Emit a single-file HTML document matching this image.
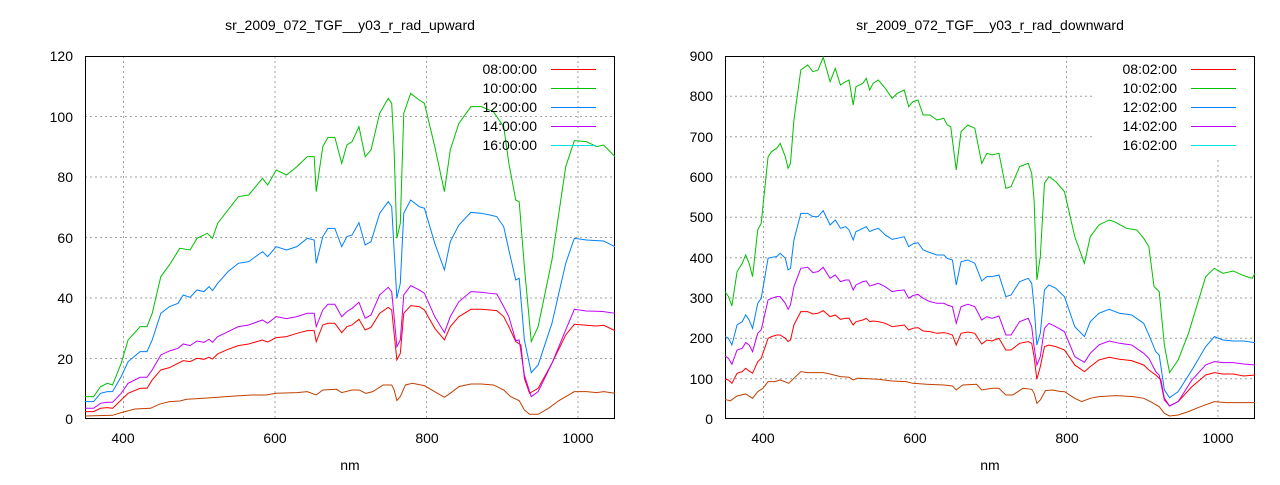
<!DOCTYPE html>
<html><head><meta charset="utf-8"><style>
body{margin:0;background:#fff}
svg{font-family:"Liberation Sans",sans-serif;font-size:14px}
</style></head><body>
<svg width="1280" height="480" xmlns="http://www.w3.org/2000/svg">
<rect width="1280" height="480" fill="#fff"/>
<!-- LEFT -->
<g stroke="#a0a0a0" stroke-dasharray="2,3" stroke-width="1">
<line x1="85" x2="615" y1="358.5" y2="358.5"/><line x1="85" x2="615" y1="298" y2="298"/><line x1="85" x2="615" y1="237.5" y2="237.5"/><line x1="85" x2="615" y1="177" y2="177"/><line x1="85" x2="615" y1="116.5" y2="116.5"/>
<line y1="56" y2="419" x1="123.5" x2="123.5"/><line y1="56" y2="419" x1="275" x2="275"/><line y1="56" y2="419" x1="426.5" x2="426.5"/><line y1="56" y2="419" x1="578" x2="578"/>
</g>
<g stroke="#000" stroke-width="1">
<rect x="85.5" y="56.5" width="529" height="362" fill="none"/>
</g>
<g text-anchor="end">
<text x="73" y="424">0</text><text x="73" y="364">20</text><text x="73" y="303">40</text><text x="73" y="243">60</text><text x="73" y="182">80</text><text x="73" y="122">100</text><text x="73" y="61">120</text>
</g>
<g text-anchor="middle">
<text x="123" y="443">400</text><text x="275" y="443">600</text><text x="427" y="443">800</text><text x="578" y="443">1000</text>
<text x="350" y="470">nm</text>
<text x="350" y="30">sr_2009_072_TGF__y03_r_rad_upward</text>
</g>
<g transform="translate(85,56) scale(0.3446,0.3333) translate(-15,-18)" fill="none" stroke-width="1" >
<polyline vector-effect="non-scaling-stroke" stroke="#c04000" points="15,1098 95,1096 120,1088 160,1077 205,1075 230,1063 260,1055 290,1053 310,1048 360,1045 400,1042 450,1038 500,1035 540,1035 570,1030 630,1028 660,1025 686,1035 705,1020 745,1018 760,1028 790,1020 810,1020 830,1030 850,1025 880,1005 905,1005 912,1020 920,1052 930,1040 945,1005 965,1000 990,1005 1000,1007 1030,1025 1058,1042 1075,1030 1100,1010 1135,1002 1165,1002 1200,1005 1230,1020 1250,1040 1275,1052 1290,1080 1305,1093 1330,1093 1360,1075 1390,1052 1435,1025 1470,1025 1500,1028 1520,1025 1553,1030"/>
<polyline vector-effect="non-scaling-stroke" stroke="#ff0000" points="15,1085 40,1085 60,1075 80,1073 95,1075 120,1050 140,1030 175,1015 195,1015 210,990 235,960 260,953 285,940 300,932 320,935 340,925 360,928 375,922 385,927 400,912 430,898 460,887 490,882 530,870 545,876 570,863 600,860 630,850 660,842 680,842 686,875 705,825 720,820 740,820 760,848 775,830 790,825 810,808 828,840 845,832 870,790 895,772 905,780 912,850 920,930 930,910 940,790 960,767 985,770 1000,780 1030,835 1058,870 1075,830 1100,800 1135,778 1165,778 1190,780 1210,782 1230,800 1245,830 1265,875 1280,885 1290,985 1305,1030 1330,1015 1370,940 1410,855 1435,823 1470,826 1500,828 1520,826 1553,842"/>
<polyline vector-effect="non-scaling-stroke" stroke="#c000ff" points="15,1075 40,1075 60,1060 80,1057 95,1057 120,1030 140,1000 175,982 195,982 210,960 235,915 260,903 285,895 300,882 320,887 340,873 360,877 375,868 385,877 400,860 430,845 460,830 490,825 530,810 545,820 570,800 600,806 630,800 660,790 680,790 686,830 705,780 720,763 740,763 760,800 775,785 790,775 810,757 828,805 845,795 870,735 895,712 905,725 912,800 920,890 930,870 940,735 960,707 985,720 1000,730 1030,800 1058,848 1075,800 1100,755 1135,725 1165,727 1190,730 1210,732 1230,770 1245,800 1265,872 1275,870 1290,975 1310,1040 1330,1025 1370,940 1410,840 1435,778 1470,783 1500,784 1520,785 1553,790"/>
<polyline vector-effect="non-scaling-stroke" stroke="#0080ff" points="15,1055 40,1055 60,1030 80,1025 95,1025 120,980 140,935 175,905 195,905 210,870 235,790 260,770 285,760 300,735 320,742 340,720 360,725 375,710 385,722 400,700 430,665 460,640 490,635 530,605 545,620 570,590 600,600 630,590 660,565 680,570 686,640 705,560 720,535 740,535 760,590 775,560 790,555 810,518 828,585 845,575 870,490 895,455 905,470 912,600 920,745 930,700 940,490 960,450 985,470 1000,475 1030,580 1058,660 1075,575 1100,525 1135,487 1165,490 1190,495 1210,500 1230,530 1245,600 1265,690 1275,685 1290,870 1310,968 1330,945 1370,820 1410,640 1435,565 1470,570 1500,572 1520,573 1553,590"/>
<polyline vector-effect="non-scaling-stroke" stroke="#00c000" points="15,1040 40,1040 60,1010 80,1000 95,1005 120,940 140,870 175,830 195,830 210,790 235,680 260,645 290,595 320,600 340,565 370,550 385,565 400,520 430,480 460,440 490,435 530,385 545,405 570,360 600,375 630,350 660,320 680,320 686,425 705,290 720,262 740,262 760,340 775,285 790,275 810,230 828,320 845,300 870,190 895,145 905,160 912,300 920,565 930,520 940,190 960,130 985,150 1000,160 1030,290 1058,425 1075,300 1100,220 1135,170 1165,170 1200,185 1230,230 1245,340 1265,450 1275,455 1290,650 1310,875 1330,830 1370,630 1410,350 1435,272 1470,275 1500,290 1520,285 1553,320"/>
</g>
<g text-anchor="end">
<text x="537" y="74">08:00:00</text><text x="537" y="93">10:00:00</text><text x="537" y="112">12:00:00</text><text x="537" y="131">14:00:00</text><text x="537" y="150">16:00:00</text>
</g>
<g stroke-width="1">
<line x1="551" x2="596" y1="69.5" y2="69.5" stroke="#ff0000"/><line x1="551" x2="596" y1="88.5" y2="88.5" stroke="#00c000"/><line x1="551" x2="596" y1="107.5" y2="107.5" stroke="#0080ff"/><line x1="551" x2="596" y1="126.5" y2="126.5" stroke="#c000ff"/><line x1="551" x2="596" y1="145.5" y2="145.5" stroke="#00e0e0"/>
</g>

<!-- RIGHT -->
<g stroke="#a0a0a0" stroke-dasharray="2,3" stroke-width="1">
<line x1="725" x2="1255" y1="378.7" y2="378.7"/><line x1="725" x2="1255" y1="338.3" y2="338.3"/><line x1="725" x2="1255" y1="298" y2="298"/><line x1="725" x2="1255" y1="257.7" y2="257.7"/><line x1="725" x2="1255" y1="217.3" y2="217.3"/><line x1="725" x2="1255" y1="177" y2="177"/><line x1="725" x2="1095" y1="136.7" y2="136.7"/><line x1="725" x2="1095" y1="96.3" y2="96.3"/>
<line y1="56" y2="419" x1="763.5" x2="763.5"/><line y1="56" y2="419" x1="915" x2="915"/><line y1="56" y2="419" x1="1066.5" x2="1066.5"/><line y1="160" y2="419" x1="1218" x2="1218"/>
</g>
<rect x="725.5" y="56.5" width="529" height="362" fill="none" stroke="#000"/>
<g text-anchor="end">
<text x="713" y="424">0</text><text x="713" y="384">100</text><text x="713" y="343">200</text><text x="713" y="303">300</text><text x="713" y="263">400</text><text x="713" y="222">500</text><text x="713" y="182">600</text><text x="713" y="142">700</text><text x="713" y="101">800</text><text x="713" y="61">900</text>
</g>
<g text-anchor="middle">
<text x="763" y="443">400</text><text x="915" y="443">600</text><text x="1067" y="443">800</text><text x="1218" y="443">1000</text>
<text x="990" y="470">nm</text>
<text x="990" y="30">sr_2009_072_TGF__y03_r_rad_downward</text>
</g>
<g transform="translate(725,56) scale(0.3446,0.3333) translate(-15,-18)" fill="none">
<polyline vector-effect="non-scaling-stroke" stroke="#c04000" points="15,1048 30,1053 50,1038 75,1032 95,1045 110,1025 125,1015 140,995 160,995 175,990 200,1000 215,985 235,965 255,968 300,968 320,972 350,980 375,982 387,990 400,985 460,988 500,993 540,995 560,1000 600,1003 650,1005 675,1008 686,1020 705,1005 745,1003 760,1020 790,1015 810,1015 830,1035 850,1035 880,1015 905,1018 912,1030 920,1060 930,1050 945,1022 965,1020 990,1025 1000,1025 1030,1045 1050,1055 1075,1045 1100,1040 1150,1037 1200,1040 1230,1045 1250,1055 1275,1070 1290,1090 1305,1098 1330,1095 1360,1085 1390,1072 1435,1055 1470,1058 1553,1058"/>
<polyline vector-effect="non-scaling-stroke" stroke="#ff0000" points="15,988 25,990 35,1000 50,970 65,965 75,955 85,963 95,970 110,935 120,925 140,865 150,860 165,855 175,855 190,865 198,875 205,870 215,825 235,785 255,785 270,792 285,790 300,782 320,800 335,795 350,808 365,805 375,805 387,825 395,815 415,810 425,805 435,815 445,813 460,815 480,820 500,830 515,828 535,825 548,840 560,835 575,833 590,843 610,845 630,850 650,848 660,850 675,855 686,885 700,850 720,846 740,850 760,882 775,870 790,873 810,865 830,900 845,900 870,880 895,875 905,880 912,920 920,988 930,950 942,890 955,885 975,890 1000,900 1030,945 1058,965 1075,950 1100,930 1130,922 1160,928 1195,932 1230,945 1245,960 1265,975 1280,990 1290,1045 1305,1068 1330,1055 1370,1010 1410,975 1435,968 1460,972 1490,972 1520,978 1553,975"/>
<polyline vector-effect="non-scaling-stroke" stroke="#c000ff" points="15,918 25,925 35,943 50,900 65,895 75,878 85,885 95,905 110,850 120,840 140,750 150,745 165,740 175,740 190,760 198,778 205,765 215,710 235,655 255,652 270,668 285,665 300,652 320,685 335,675 350,695 365,690 375,690 387,720 395,705 415,695 425,693 435,708 445,705 460,700 480,710 500,725 515,722 535,720 548,745 560,737 575,733 590,745 610,755 630,760 650,760 660,765 675,770 686,820 700,770 720,763 740,770 760,810 775,800 790,805 810,798 830,855 845,855 870,815 895,805 905,830 912,890 920,945 930,920 942,835 955,820 975,830 1000,845 1030,920 1058,937 1075,910 1100,885 1130,873 1160,880 1195,885 1230,910 1245,925 1265,965 1275,975 1290,1050 1305,1068 1330,1055 1370,990 1410,945 1435,935 1460,938 1490,938 1520,942 1553,945"/>
<polyline vector-effect="non-scaling-stroke" stroke="#0080ff" points="15,860 25,865 35,885 50,825 65,815 75,795 85,810 95,835 110,760 120,745 140,625 150,622 165,620 175,610 190,625 198,660 205,655 215,570 235,490 255,490 270,500 285,500 300,482 320,525 335,510 350,535 365,530 375,540 387,570 395,545 415,535 425,530 435,545 445,540 460,535 480,555 500,568 515,565 535,560 548,590 560,582 575,578 590,600 610,608 630,615 650,615 660,625 675,630 686,705 700,635 720,630 740,640 760,693 775,680 790,680 810,675 830,740 845,735 870,695 895,685 905,700 912,770 920,885 930,850 942,720 955,705 975,715 1000,740 1030,830 1058,860 1075,815 1100,790 1130,778 1160,790 1195,795 1230,820 1245,855 1265,905 1275,915 1290,1020 1305,1043 1330,1025 1370,960 1410,890 1435,860 1460,870 1490,873 1520,873 1553,878"/>
<polyline vector-effect="non-scaling-stroke" stroke="#00c000" points="15,725 25,740 35,768 50,665 65,640 75,615 85,640 95,680 110,540 120,520 140,320 150,305 165,295 175,280 190,320 198,355 205,340 215,210 235,60 255,45 270,65 285,60 300,22 320,95 335,55 350,105 365,95 375,90 387,165 395,110 415,100 425,85 435,120 445,100 460,90 480,115 500,145 515,130 535,120 548,170 560,155 575,150 590,195 610,195 630,210 650,205 660,225 670,230 686,360 700,245 720,225 740,235 760,340 775,310 790,315 810,310 830,415 845,410 870,350 895,340 905,370 912,450 920,690 930,620 942,400 955,380 975,395 1000,425 1030,560 1058,640 1075,560 1100,525 1130,510 1145,515 1180,535 1210,540 1230,565 1245,590 1260,710 1275,725 1290,885 1305,968 1330,930 1360,850 1410,680 1435,655 1460,670 1490,663 1520,677 1545,685 1553,670"/>
</g>
<g text-anchor="end">
<text x="1177" y="74">08:02:00</text><text x="1177" y="93">10:02:00</text><text x="1177" y="112">12:02:00</text><text x="1177" y="131">14:02:00</text><text x="1177" y="150">16:02:00</text>
</g>
<g stroke-width="1">
<line x1="1191" x2="1236" y1="69.5" y2="69.5" stroke="#ff0000"/><line x1="1191" x2="1236" y1="88.5" y2="88.5" stroke="#00c000"/><line x1="1191" x2="1236" y1="107.5" y2="107.5" stroke="#0080ff"/><line x1="1191" x2="1236" y1="126.5" y2="126.5" stroke="#c000ff"/><line x1="1191" x2="1236" y1="145.5" y2="145.5" stroke="#00e0e0"/>
</g>
</svg>
</body></html>
